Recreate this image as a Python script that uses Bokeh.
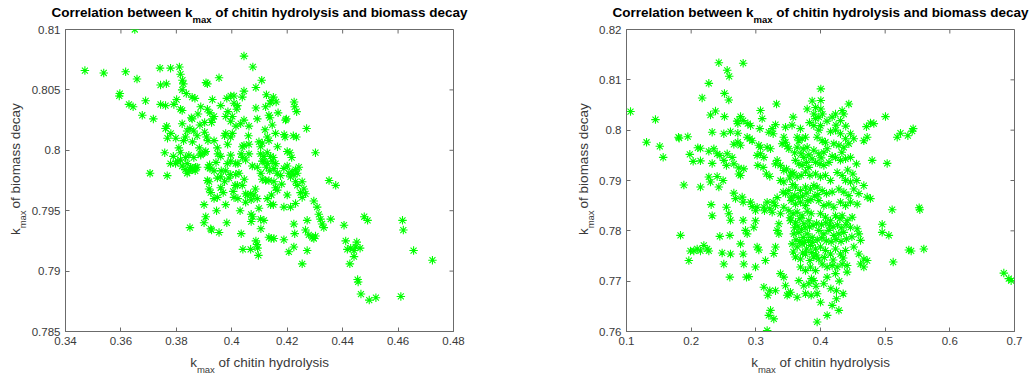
import math
from bokeh.plotting import figure
from bokeh.models import Range1d, FixedTicker
from bokeh.core.properties import value
from bokeh.layouts import row, column
from bokeh.embed import file_html
from bokeh.resources import INLINE

# ---------------- data ----------------
x_left = [
    0.3650, 0.3470, 0.3538, 0.3617, 0.3658, 0.3596, 0.3594, 0.3629, 0.3644, 0.3689,
    0.3677, 0.3717, 0.3705, 0.3741, 0.3779, 0.3811, 0.3815, 0.3822, 0.3825, 0.3743,
    0.3764, 0.3743, 0.3761, 0.3791, 0.3801, 0.3821, 0.3836, 0.3857, 0.3867, 0.3815,
    0.3821, 0.3854, 0.3857, 0.3849, 0.3885, 0.3821, 0.3765, 0.3761, 0.3780, 0.3768,
    0.3798, 0.3826, 0.3858, 0.3758, 0.3789, 0.3815, 0.3815, 0.3797, 0.3821, 0.3839,
    0.3851, 0.3857, 0.3869, 0.3833, 0.3845, 0.3863, 0.3888, 0.3912, 0.3921, 0.3936,
    0.3907, 0.3912, 0.3954, 0.3888, 0.3930, 0.3927, 0.3902, 0.3902, 0.3909, 0.3914,
    0.3936, 0.3948, 0.3906, 0.3902, 0.3888, 0.3914, 0.3921, 0.3936, 0.3950, 0.3960,
    0.3912, 0.3918, 0.3948, 0.3960, 0.3918, 0.3924, 0.3936, 0.3948, 0.3960, 0.3969,
    0.3974, 0.3978, 0.3996, 0.3984, 0.3996, 0.3996, 0.3978, 0.3974, 0.3996, 0.4002,
    0.3978, 0.3996, 0.4002, 0.3986, 0.3982, 0.3996, 0.4008, 0.4018, 0.4020, 0.4008,
    0.3954, 0.3906, 0.3900, 0.3924, 0.3927, 0.3978, 0.3982, 0.3849, 0.4044, 0.4076,
    0.4044, 0.4087, 0.4108, 0.4038, 0.4032, 0.4044, 0.4062, 0.4087, 0.4092, 0.4044,
    0.4038, 0.4062, 0.4034, 0.4038, 0.4050, 0.4014, 0.4022, 0.4074, 0.4062, 0.4026,
    0.4014, 0.4012, 0.4020, 0.4038, 0.4050, 0.4056, 0.4068, 0.4080, 0.4008, 0.4022,
    0.4050, 0.4070, 0.4092, 0.4070, 0.4075, 0.4070, 0.4034, 0.4040, 0.4068, 0.4087,
    0.4091, 0.4093, 0.4096, 0.4104, 0.4116, 0.4098, 0.4092, 0.4110, 0.4098, 0.4104,
    0.4110, 0.4104, 0.4116, 0.4110, 0.4122, 0.4122, 0.4138, 0.4142, 0.4150, 0.4134,
    0.4138, 0.4167, 0.4146, 0.4128, 0.4134, 0.4158, 0.4194, 0.4197, 0.4189, 0.4192,
    0.4222, 0.4233, 0.4225, 0.4227, 0.4234, 0.4270, 0.4210, 0.4216, 0.4128, 0.4140,
    0.4150, 0.4116, 0.4128, 0.4146, 0.4158, 0.4125, 0.4137, 0.4152, 0.4164, 0.4176,
    0.4134, 0.4152, 0.4158, 0.4164, 0.4188, 0.4200, 0.4206, 0.4218, 0.4230, 0.4242,
    0.4212, 0.4224, 0.4236, 0.4230, 0.4236, 0.4254, 0.4260, 0.4248, 0.4266, 0.4254,
    0.4128, 0.4140, 0.4150, 0.4188, 0.4212, 0.4230, 0.4224, 0.4227, 0.4224, 0.4206,
    0.4134, 0.4142, 0.4152, 0.4188, 0.4254, 0.4266, 0.4272, 0.4272, 0.4278, 0.4290,
    0.4296, 0.4302, 0.4296, 0.4308, 0.4314, 0.4320, 0.4326, 0.4332, 0.4302, 0.4351,
    0.4375, 0.4357, 0.4405, 0.4411, 0.4417, 0.4429, 0.4441, 0.4447, 0.4451, 0.4463,
    0.4441, 0.4426, 0.4478, 0.4490, 0.4454, 0.4456, 0.4466, 0.4496, 0.4520, 0.4610,
    0.4616, 0.4619, 0.4656, 0.4724, 0.3767, 0.3779, 0.3809, 0.3833, 0.3839, 0.3863,
    0.3875, 0.3839, 0.3857, 0.3875, 0.3883,
    0.3832, 0.3846, 0.3868, 0.3805, 0.3920, 0.3943, 0.3962, 0.3990, 0.4005, 0.4045,
    0.4085, 0.4105, 0.4143, 0.4180, 0.4200, 0.3985, 0.4015, 0.4060, 0.4120, 0.4165,
    0.4200, 0.3930, 0.3960, 0.4125, 0.4160, 0.3878, 0.3900, 0.3945, 0.4030, 0.4105,
]
y_left = [
    0.8100, 0.8066, 0.8064, 0.8065, 0.8059, 0.8047, 0.8045, 0.8038, 0.8036, 0.8041,
    0.8029, 0.8026, 0.7981, 0.8068, 0.8068, 0.8069, 0.8063, 0.8058, 0.8055, 0.8054,
    0.8055, 0.8038, 0.8037, 0.8038, 0.8042, 0.8050, 0.8047, 0.8044, 0.8043, 0.8034,
    0.8033, 0.8027, 0.8026, 0.8018, 0.8021, 0.8022, 0.8020, 0.8018, 0.8014, 0.8010,
    0.8010, 0.8008, 0.8007, 0.7998, 0.7995, 0.7998, 0.7992, 0.7989, 0.7987, 0.7989,
    0.7986, 0.7985, 0.7986, 0.7994, 0.7996, 0.7994, 0.7996, 0.8034, 0.8031, 0.8028,
    0.8056, 0.8055, 0.8060, 0.8036, 0.8026, 0.8023, 0.8023, 0.8015, 0.8011, 0.8008,
    0.8008, 0.8002, 0.7999, 0.7998, 0.7997, 0.7986, 0.7985, 0.7983, 0.7997, 0.7995,
    0.7975, 0.7974, 0.7977, 0.7978, 0.7968, 0.7965, 0.7960, 0.7961, 0.7969, 0.7965,
    0.7974, 0.7983, 0.7980, 0.7989, 0.7996, 0.7991, 0.8014, 0.8012, 0.8011, 0.8014,
    0.8028, 0.8024, 0.8028, 0.8032, 0.8043, 0.8045, 0.8039, 0.8034, 0.8037, 0.8045,
    0.7932, 0.7945, 0.7940, 0.7935, 0.7934, 0.7955, 0.7940, 0.7936, 0.8078, 0.8069,
    0.8049, 0.8052, 0.8058, 0.8044, 0.8022, 0.8025, 0.8020, 0.8035, 0.8026, 0.8004,
    0.8003, 0.8005, 0.7997, 0.7994, 0.7992, 0.7989, 0.7989, 0.7987, 0.7997, 0.7981,
    0.7980, 0.7971, 0.7971, 0.7971, 0.7964, 0.7963, 0.7964, 0.7963, 0.7961, 0.7960,
    0.7957, 0.7959, 0.7960, 0.7947, 0.7945, 0.7941, 0.7931, 0.7918, 0.7918, 0.7925,
    0.7922, 0.7919, 0.7913, 0.7943, 0.7942, 0.7952, 0.7986, 0.7991, 0.8007, 0.8003,
    0.8006, 0.7997, 0.7995, 0.7976, 0.7975, 0.8036, 0.8039, 0.8041, 0.8044, 0.8029,
    0.8027, 0.8031, 0.8021, 0.8011, 0.8008, 0.8014, 0.8025, 0.8026, 0.8013, 0.8011,
    0.8012, 0.8011, 0.8040, 0.8036, 0.8032, 0.8018, 0.7998, 0.7994, 0.7998, 0.7995,
    0.7994, 0.7991, 0.7989, 0.7991, 0.7989, 0.7986, 0.7983, 0.7985, 0.7981, 0.7979,
    0.7975, 0.7974, 0.7969, 0.7967, 0.7985, 0.7987, 0.7981, 0.7982, 0.7984, 0.7986,
    0.7978, 0.7980, 0.7981, 0.7974, 0.7971, 0.7974, 0.7968, 0.7965, 0.7964, 0.7961,
    0.7960, 0.7955, 0.7955, 0.7953, 0.7953, 0.7956, 0.7939, 0.7931, 0.7920, 0.7916,
    0.7928, 0.7927, 0.7927, 0.7926, 0.7906, 0.7934, 0.7942, 0.7917, 0.7930, 0.7928,
    0.7927, 0.7929, 0.7958, 0.7953, 0.7947, 0.7943, 0.7939, 0.7936, 0.7998, 0.7975,
    0.7971, 0.7943, 0.7938, 0.7925, 0.7918, 0.7919, 0.7917, 0.7920, 0.7924, 0.7919,
    0.7912, 0.7906, 0.7945, 0.7942, 0.7893, 0.7891, 0.7881, 0.7876, 0.7878, 0.7879,
    0.7942, 0.7934, 0.7917, 0.7909, 0.7979, 0.7989, 0.8002, 0.8011, 0.8016, 0.8016,
    0.8012, 0.7981, 0.7984, 0.7986, 0.8002,
    0.7984, 0.7983, 0.7983, 0.7991, 0.7988, 0.7990, 0.7983, 0.7977, 0.7966, 0.7976,
    0.7968, 0.7981, 0.7963, 0.7972, 0.7963, 0.8005, 0.8020, 0.8012, 0.8017, 0.8003,
    0.7999, 0.8042, 0.8037, 0.8046, 0.8040, 0.8030, 0.7955, 0.7950, 0.7950, 0.7935,
]

x_right = [
    0.1062, 0.1310, 0.1448, 0.1515, 0.1567, 0.1804, 0.1814, 0.1948, 0.1835, 0.1887,
    0.1979, 0.2031, 0.2144, 0.2103, 0.2144, 0.2170, 0.2144, 0.1964, 0.1989, 0.2041,
    0.2093, 0.2144, 0.2196, 0.2247, 0.2273, 0.2273, 0.2299, 0.2376, 0.2325, 0.2273,
    0.2351, 0.2325, 0.2273, 0.2299, 0.2402, 0.2309, 0.2325, 0.2428, 0.2402, 0.2443,
    0.2428, 0.2443, 0.2479, 0.2505, 0.2515, 0.2582, 0.2505, 0.2515, 0.2505, 0.2546,
    0.2494, 0.2557, 0.2588, 0.2608, 0.2557, 0.2634, 0.2546, 0.2582, 0.2608, 0.2598,
    0.2608, 0.2598, 0.2660, 0.2686, 0.2660, 0.2711, 0.2722, 0.2763, 0.2804, 0.2722,
    0.2737, 0.2763, 0.2804, 0.2789, 0.2804, 0.2804, 0.2840, 0.2866, 0.2763, 0.2804,
    0.2814, 0.2856, 0.2892, 0.2866, 0.2907, 0.2943, 0.2876, 0.2918, 0.2918, 0.2943,
    0.2969, 0.2995, 0.2995, 0.3020, 0.3020, 0.3046, 0.2995, 0.3072, 0.3098, 0.3062,
    0.3020, 0.3072, 0.3124, 0.3046, 0.3072, 0.3031, 0.3113, 0.3124, 0.3175, 0.3134,
    0.3216, 0.3253, 0.3165, 0.3216, 0.3149, 0.3124, 0.3186, 0.3216, 0.3201, 0.3227,
    0.3278, 0.3175, 0.3304, 0.3201, 0.3253, 0.3268, 0.3304, 0.3175, 0.3227, 0.3320,
    0.3304, 0.3330, 0.3381, 0.3330, 0.3356, 0.3304, 0.3278, 0.3356, 0.3381, 0.3433,
    0.3459, 0.3510, 0.3485, 0.3536, 0.3433, 0.3459, 0.3407, 0.3485, 0.3510, 0.3433,
    0.3474, 0.3536, 0.3562, 0.3423, 0.3459, 0.3510, 0.3546, 0.3381, 0.3433, 0.3459,
    0.3577, 0.3639, 0.3665, 0.3716, 0.3768, 0.3639, 0.3732, 0.3794, 0.3613, 0.3665,
    0.3716, 0.3742, 0.3784, 0.3820, 0.3588, 0.3639, 0.3701, 0.3768, 0.3835, 0.3613,
    0.3691, 0.3768, 0.3845, 0.3897, 0.3546, 0.3613, 0.3691, 0.3768, 0.3804, 0.3510,
    0.3577, 0.3639, 0.3716, 0.3794, 0.3856, 0.3536, 0.3613, 0.3680, 0.3742, 0.3820,
    0.3588, 0.3665, 0.3732, 0.3794, 0.3871, 0.3562, 0.3639, 0.3716, 0.3784, 0.3845,
    0.3923, 0.3613, 0.3691, 0.3768, 0.3835, 0.3897, 0.3974, 0.3691, 0.3768, 0.3845,
    0.3923, 0.3665, 0.3742, 0.3820, 0.3897, 0.3639, 0.3768, 0.3856, 0.3948, 0.3948,
    0.4000, 0.4103, 0.4180, 0.4247, 0.4247, 0.4284, 0.4351, 0.3794, 0.3897, 0.3923,
    0.3974, 0.3871, 0.3923, 0.4005, 0.4005, 0.4005, 0.4031, 0.3897, 0.3974, 0.4000,
    0.3948, 0.4026, 0.4077, 0.3897, 0.3974, 0.4052, 0.4103, 0.3923, 0.3990, 0.4052,
    0.4130, 0.3923, 0.4000, 0.4077, 0.4155, 0.3948, 0.4026, 0.4093, 0.4180, 0.3974,
    0.4052, 0.4129, 0.4206, 0.4000, 0.4077, 0.4155, 0.4232, 0.4299, 0.3974, 0.4052,
    0.4129, 0.4206, 0.4284, 0.4361, 0.4000, 0.4077, 0.4155, 0.4232, 0.4309, 0.4387,
    0.4026, 0.4103, 0.4180, 0.4258, 0.4335, 0.4412, 0.4103, 0.4232, 0.4412, 0.4180,
    0.4232, 0.4309, 0.4335, 0.4361, 0.4438, 0.4155, 0.4232, 0.4309, 0.4387, 0.4464,
    0.4515, 0.4206, 0.4284, 0.4361, 0.4438, 0.4232, 0.4309, 0.4387, 0.4464, 0.4557,
    0.4258, 0.4335, 0.4387, 0.4464, 0.4284, 0.4361, 0.4438, 0.4515, 0.4593, 0.4670,
    0.4309, 0.4387, 0.4464, 0.4567, 0.4335, 0.4412, 0.4490, 0.4464, 0.4567, 0.4593,
    0.4515, 0.4593, 0.4670, 0.4722, 0.4619, 0.4619, 0.4670, 0.4722, 0.4773, 0.4670,
    0.4722, 0.4773, 0.4825, 0.4711, 0.4799, 0.5005, 0.5031, 0.4954, 0.4954, 0.5057,
    0.5108, 0.5124, 0.5186, 0.5237, 0.5351, 0.5433, 0.5418, 0.5366, 0.5402, 0.5536,
    0.5526, 0.5598, 0.6835, 0.6912, 0.6948, 0.3268, 0.3304, 0.3330, 0.3381, 0.3433,
    0.2660, 0.2722, 0.2763, 0.2737, 0.2814,
    0.3525, 0.3570, 0.3602, 0.3655, 0.3721, 0.3788, 0.3852, 0.3912, 0.3958, 0.3530,
    0.3598, 0.3651, 0.3705, 0.3762, 0.3830, 0.3885, 0.3940, 0.4015, 0.4083, 0.4140,
    0.4195, 0.4262, 0.4320, 0.4395, 0.3620, 0.3680, 0.3750, 0.3815, 0.3880, 0.3950,
    0.4020, 0.4090, 0.4165, 0.4240, 0.4318, 0.4400, 0.4485, 0.3580, 0.3725, 0.3865,
    0.3935, 0.4060, 0.4195, 0.4350, 0.3600, 0.3700, 0.3820, 0.3870, 0.4010, 0.4180,
    0.4330, 0.4420, 0.4500, 0.4560, 0.3560, 0.3690, 0.3830, 0.4100, 0.4240, 0.4390,
    0.3860, 0.3930, 0.4050, 0.4160, 0.4290,
]
y_right = [
    0.8037, 0.7976, 0.8021, 0.7968, 0.7946, 0.7986, 0.7984, 0.7987, 0.7791, 0.7891,
    0.7952, 0.7938, 0.7939, 0.7965, 0.7964, 0.8064, 0.7887, 0.7741, 0.7760, 0.7760,
    0.7764, 0.7760, 0.7771, 0.7764, 0.7760, 0.8093, 0.8030, 0.8038, 0.7996, 0.7958,
    0.7963, 0.7934, 0.7907, 0.7897, 0.7908, 0.7852, 0.7830, 0.8134, 0.7953, 0.7950,
    0.7887, 0.7789, 0.7756, 0.7734, 0.8073, 0.8060, 0.7993, 0.8027, 0.7940, 0.7930,
    0.7900, 0.8119, 0.8107, 0.7997, 0.7953, 0.7946, 0.7847, 0.7834, 0.7821, 0.7791,
    0.7754, 0.7708, 0.7875, 0.7864, 0.7933, 0.8018, 0.8013, 0.8027, 0.8019, 0.7994,
    0.7913, 0.7910, 0.8133, 0.7867, 0.7857, 0.7821, 0.7801, 0.7794, 0.7774, 0.7754,
    0.7734, 0.7708, 0.7709, 0.7986, 0.7983, 0.7979, 0.8013, 0.8009, 0.7857, 0.7848,
    0.7807, 0.7820, 0.7840, 0.7847, 0.7768, 0.7762, 0.7728, 0.8039, 0.8023, 0.8003,
    0.7950, 0.7953, 0.7946, 0.7970, 0.7966, 0.7930, 0.7926, 0.7847, 0.7857, 0.7840,
    0.7844, 0.7837, 0.7913, 0.7908, 0.7741, 0.7688, 0.7672, 0.7681, 0.7632, 0.7642,
    0.7625, 0.7602, 0.7681, 0.7996, 0.8003, 0.7993, 0.8011, 0.7966, 0.7963, 0.8052,
    0.7933, 0.7940, 0.7930, 0.7801, 0.7794, 0.7768, 0.7755, 0.7814, 0.7715, 0.7708,
    0.7691, 0.7675, 0.7672, 0.7678, 0.7986, 0.7976, 0.7973, 0.7968, 0.7963, 0.7920,
    0.7923, 0.7913, 0.7916, 0.7877, 0.7874, 0.7880, 0.7867, 0.7900, 0.7897, 0.8006,
    0.8026, 0.7986, 0.7979, 0.7983, 0.7986, 0.7966, 0.7963, 0.7966, 0.7940, 0.7933,
    0.7930, 0.7946, 0.7936, 0.7926, 0.7913, 0.7907, 0.7910, 0.7917, 0.7910, 0.7887,
    0.7880, 0.7887, 0.7883, 0.7890, 0.7860, 0.7853, 0.7857, 0.7850, 0.7860, 0.7840,
    0.7834, 0.7837, 0.7830, 0.7839, 0.7834, 0.7820, 0.7817, 0.7824, 0.7814, 0.7820,
    0.7794, 0.7797, 0.7787, 0.7794, 0.7787, 0.7774, 0.7768, 0.7774, 0.7764, 0.7771,
    0.7764, 0.7748, 0.7744, 0.7754, 0.7741, 0.7748, 0.7744, 0.7728, 0.7721, 0.7728,
    0.7721, 0.7701, 0.7691, 0.7695, 0.7701, 0.7668, 0.7675, 0.7672, 0.7675, 0.7619,
    0.7658, 0.7632, 0.7652, 0.7681, 0.7665, 0.7642, 0.7675, 0.8042, 0.8032, 0.8023,
    0.8026, 0.8058, 0.8045, 0.8082, 0.8059, 0.8042, 0.8032, 0.8009, 0.8000, 0.8009,
    0.7986, 0.7979, 0.7976, 0.7960, 0.7953, 0.7956, 0.7963, 0.7936, 0.7933, 0.7930,
    0.7936, 0.7913, 0.7907, 0.7910, 0.7900, 0.7887, 0.7880, 0.7874, 0.7877, 0.7860,
    0.7850, 0.7853, 0.7847, 0.7834, 0.7827, 0.7820, 0.7830, 0.7824, 0.7801, 0.7794,
    0.7801, 0.7791, 0.7794, 0.7797, 0.7768, 0.7761, 0.7754, 0.7764, 0.7754, 0.7761,
    0.7734, 0.7728, 0.7731, 0.7728, 0.7734, 0.7731, 0.7708, 0.7715, 0.7718, 0.8026,
    0.8032, 0.8019, 0.8039, 0.8032, 0.8052, 0.7997, 0.8000, 0.7993, 0.7983, 0.7993,
    0.7983, 0.7973, 0.7970, 0.7966, 0.7973, 0.7946, 0.7940, 0.7943, 0.7946, 0.7933,
    0.7916, 0.7910, 0.7900, 0.7897, 0.7883, 0.7877, 0.7870, 0.7883, 0.7874, 0.7890,
    0.7857, 0.7850, 0.7857, 0.7853, 0.7830, 0.7820, 0.7827, 0.7807, 0.7804, 0.7794,
    0.7768, 0.7754, 0.7744, 0.7741, 0.7781, 0.7734, 0.7728, 0.7867, 0.7864, 0.7979,
    0.7986, 0.8014, 0.8013, 0.8007, 0.7940, 0.8027, 0.7934, 0.7813, 0.7797, 0.7791,
    0.7842, 0.7738, 0.7986, 0.7994, 0.7989, 0.8003, 0.7998, 0.7762, 0.7760, 0.7842,
    0.7846, 0.7764, 0.7716, 0.7705, 0.7701, 0.7857, 0.7850, 0.7866, 0.7834, 0.7847,
    0.7972, 0.7976, 0.7970, 0.7925, 0.7923,
    0.7905, 0.7892, 0.7871, 0.7866, 0.7869, 0.7875, 0.7862, 0.7869, 0.7872, 0.7826,
    0.7806, 0.7809, 0.7803, 0.7806, 0.7808, 0.7811, 0.7815, 0.7812, 0.7816, 0.7810,
    0.7808, 0.7812, 0.7806, 0.7812, 0.7782, 0.7779, 0.7777, 0.7781, 0.7777, 0.7782,
    0.7786, 0.7780, 0.7778, 0.7783, 0.7779, 0.7784, 0.7788, 0.7758, 0.7756, 0.7757,
    0.7752, 0.7747, 0.7742, 0.7746, 0.7955, 0.7953, 0.7951, 0.7943, 0.7945, 0.7948,
    0.7956, 0.7921, 0.7913, 0.7900, 0.8010, 0.8003, 0.8015, 0.8018, 0.8010, 0.8008,
    0.7705, 0.7690, 0.7695, 0.7685, 0.7700,
]

xticks_left = [0.34, 0.36, 0.38, 0.40, 0.42, 0.44, 0.46, 0.48]
xtick_labels_left = ["0.34", "0.36", "0.38", "0.4", "0.42", "0.44", "0.46", "0.48"]
yticks_left = [0.785, 0.79, 0.795, 0.80, 0.805, 0.81]
ytick_labels_left = ["0.785", "0.79", "0.795", "0.8", "0.805", "0.81"]
xticks_right = [0.1, 0.2, 0.3, 0.4, 0.5, 0.6, 0.7]
xtick_labels_right = ["0.1", "0.2", "0.3", "0.4", "0.5", "0.6", "0.7"]
yticks_right = [0.76, 0.77, 0.78, 0.79, 0.80, 0.81, 0.82]
ytick_labels_right = ["0.76", "0.77", "0.78", "0.79", "0.8", "0.81", "0.82"]

title_parts = ("Correlation between k", "max", " of chitin hydrolysis and biomass decay")
xlabel_parts = ("k", "max", " of chitin hydrolysis")
ylabel_parts = ("k", "max", " of biomass decay")

# ---------------- styling / layout ----------------
FONT = "Liberation Sans"
AXIS_COLOR = "#6b6b6b"
TEXT_COLOR = "#3a3a3a"
MARKER_COLOR = "#00ff00"
PANEL_W, PANEL_H = 515, 376
TITLE_H, XLAB_H = 24, 24
FRAME_W, FRAME_H, FRAME_TOP = 388, 302, 29
TICK_PX = 4

REG = {' ': 278, 'a': 556, 'b': 556, 'c': 500, 'd': 556, 'e': 556, 'f': 278, 'h': 556,
       'i': 222, 'k': 500, 'l': 222, 'm': 833, 'n': 556, 'o': 556, 'r': 333, 's': 500,
       't': 278, 'x': 500, 'y': 500, 'w': 722, 'C': 722}
BOLD = {' ': 278, 'C': 722, 'a': 556, 'b': 611, 'c': 556, 'd': 611, 'e': 556, 'f': 333,
        'h': 611, 'i': 278, 'k': 556, 'l': 278, 'm': 889, 'n': 611, 'o': 611, 'r': 389,
        's': 556, 't': 333, 'w': 778, 'x': 556, 'y': 556}


def text_width(s, size, bold):
    table = BOLD if bold else REG
    return sum(table.get(ch, 556) for ch in s) * size / 1000.0


def text_strip(w, h):
    f = figure(width=w, height=h, x_range=Range1d(0, w), y_range=Range1d(h, 0),
               output_backend="svg", toolbar_location=None,
               x_axis_type=None, y_axis_type=None, min_border=0)
    f.outline_line_color = None
    f.background_fill_color = "white"
    f.border_fill_color = "white"
    return f


def add_sub_text(f, parts, cx, cy, size, sub_size, bold, sub_off, vertical=False):
    w0 = text_width(parts[0], size, bold)
    w1 = text_width(parts[1], sub_size, bold)
    rest = parts[2].lstrip(" ")
    gap = text_width(parts[2][:len(parts[2]) - len(rest)], size, bold)
    w2 = text_width(rest, size, bold)
    total = w0 + w1 + gap + w2
    if not vertical:
        a = cx - total / 2 + w0
        pos = [(a, cy, "right", size, parts[0]),
               (a, cy + sub_off, "left", sub_size, parts[1]),
               (a + w1 + gap, cy, "left", size, rest)]
        ang = 0
    else:
        a = cy + total / 2 - w0
        pos = [(cx, a, "right", size, parts[0]),
               (cx + sub_off, a, "left", sub_size, parts[1]),
               (cx, a - w1 - gap, "left", size, rest)]
        ang = math.pi / 2
    for px, py, align, fs, txt in pos:
        f.text(x=[px], y=[py], text=[txt], angle=ang, text_align=align,
               text_baseline="middle", text_font=value(FONT),
               text_font_size=value(f"{fs}px"),
               text_font_style="bold" if bold else "normal",
               text_color="#000000" if bold else TEXT_COLOR)


def style_axis(ax, ticks, labels):
    ax.ticker = FixedTicker(ticks=ticks)
    ax.major_label_overrides = dict(zip(ticks, labels))
    ax.major_tick_in = TICK_PX
    ax.major_tick_out = 0
    ax.minor_tick_in = 0
    ax.minor_tick_out = 0
    ax.axis_line_color = AXIS_COLOR
    ax.major_tick_line_color = AXIS_COLOR
    ax.major_label_text_font = FONT
    ax.major_label_text_color = TEXT_COLOR
    ax.major_label_text_font_size = "11.5px"
    ax.major_label_standoff = 5


def make_panel(xs, ys, xr, yr, xt, xtl, yt, ytl, frame_left, ylab_w, title_cx, ylabel_cx):
    plot_w = PANEL_W - ylab_w
    plot_h = PANEL_H - TITLE_H - XLAB_H
    b_left = frame_left - ylab_w
    b_right = plot_w - b_left - FRAME_W
    b_top = FRAME_TOP - TITLE_H
    b_bottom = plot_h - b_top - FRAME_H
    p = figure(width=plot_w, height=plot_h, x_range=Range1d(*xr), y_range=Range1d(*yr),
               output_backend="svg", toolbar_location=None,
               min_border_left=b_left, min_border_right=b_right,
               min_border_top=b_top, min_border_bottom=b_bottom)
    p.xgrid.visible = False
    p.ygrid.visible = False
    p.outline_line_color = AXIS_COLOR
    p.outline_line_width = 1
    p.background_fill_color = "white"
    p.border_fill_color = "white"
    style_axis(p.xaxis[0], xt, xtl)
    style_axis(p.yaxis[0], yt, ytl)
    # inward ticks on the top and right edges (MATLAB box style)
    dy = TICK_PX / FRAME_H * (yr[1] - yr[0])
    dx = TICK_PX / FRAME_W * (xr[1] - xr[0])
    p.segment(x0=xt, y0=[yr[1]] * len(xt), x1=xt, y1=[yr[1] - dy] * len(xt),
              line_color=AXIS_COLOR, line_width=1)
    p.segment(x0=[xr[1]] * len(yt), y0=yt, x1=[xr[1] - dx] * len(yt), y1=yt,
              line_color=AXIS_COLOR, line_width=1)
    p.scatter(x=xs, y=ys, marker="asterisk", size=8.5, line_color=MARKER_COLOR,
              line_width=1.1)

    t = text_strip(PANEL_W, TITLE_H)
    add_sub_text(t, title_parts, title_cx, 12, 13.5, 9.5, True, 6.5)
    yl = text_strip(ylab_w, plot_h)
    add_sub_text(yl, ylabel_parts, ylabel_cx, 180 - TITLE_H, 13.5, 9.5, False, 7,
                 vertical=True)
    xl = text_strip(PANEL_W, XLAB_H)
    add_sub_text(xl, xlabel_parts, title_cx, 362 - (PANEL_H - XLAB_H), 13.5, 9.5, False, 7)
    return column(t, row(yl, p), xl)


panel1 = make_panel(x_left, y_left, (0.34, 0.48), (0.785, 0.81), xticks_left,
                    xtick_labels_left, yticks_left, ytick_labels_left, 65, 28, 259, 15)
panel2 = make_panel(x_right, y_right, (0.1, 0.7), (0.76, 0.82), xticks_right,
                    xtick_labels_right, yticks_right, ytick_labels_right, 111, 81, 305, 68)

layout = row(panel1, panel2)
open("out.html", "w").write(file_html(layout, INLINE))
